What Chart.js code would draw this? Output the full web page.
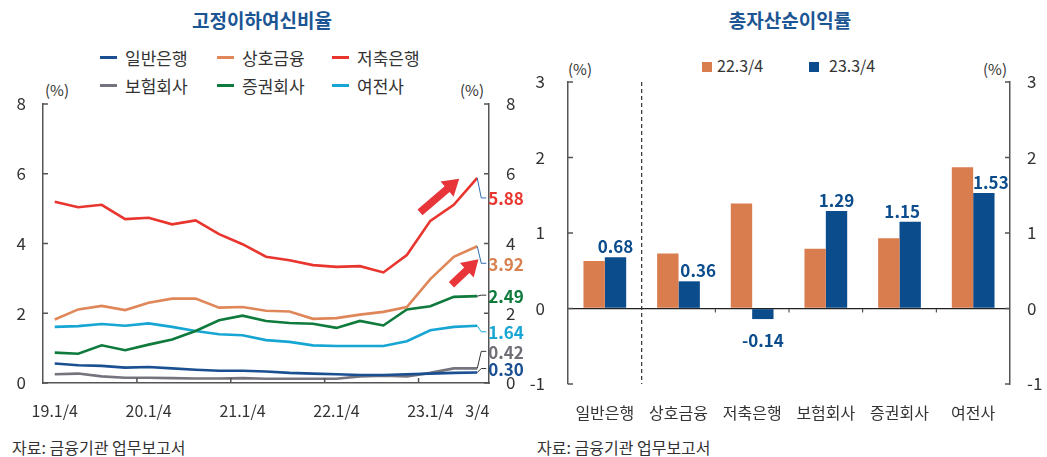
<!DOCTYPE html>
<html>
<head>
<meta charset="utf-8">
<script src="https://cdn.jsdelivr.net/npm/chart.js@4.4.0/dist/chart.umd.min.js"></script>
<style>
body{margin:0;width:1047px;height:457px;background:#fff;position:relative;overflow:hidden;font-family:"Noto Sans CJK KR","Noto Sans",sans-serif;color:#333}
.title{position:absolute;top:6px;font-size:19px;font-weight:bold;color:#1b5593;text-align:center;width:300px}
.unit{position:absolute;font-size:15px;color:#333}
.src{position:absolute;top:435px;font-size:16px;color:#333}
#legend1{position:absolute;left:100px;top:44px;display:grid;grid-template-columns:117px 115px auto;row-gap:2px}
.li{display:flex;align-items:center;font-size:17px;height:26px;white-space:nowrap}
.ln{display:inline-block;width:17px;height:3px;margin-right:8px}
#legend2{position:absolute;top:56px;left:0;font-size:16px}
.sq{position:absolute;width:10px;height:10px}
.lt{position:absolute;white-space:nowrap}
canvas{position:absolute;top:0}
</style>
</head>
<body>
<div class="title" style="left:112px">고정이하여신비율</div>
<div class="title" style="left:640px">총자산순이익률</div>
<div id="legend1"></div>
<div id="legend2"></div>
<div class="unit" style="left:45px;top:79px">(%)</div>
<div class="unit" style="left:460px;top:79px">(%)</div>
<div class="unit" style="left:568px;top:58px">(%)</div>
<div class="unit" style="left:983px;top:58px">(%)</div>
<canvas id="c1" width="530" height="430" style="left:0"></canvas>
<canvas id="c2" width="517" height="430" style="left:530px"></canvas>
<div class="src" style="left:12px">자료: 금융기관 업무보고서</div>
<div class="src" style="left:537px">자료: 금융기관 업무보고서</div>
<script>
// 고정이하여신비율 (분기)
var quarters = ['19.1/4','19.2/4','19.3/4','19.4/4','20.1/4','20.2/4','20.3/4','20.4/4',
  '21.1/4','21.2/4','21.3/4','21.4/4','22.1/4','22.2/4','22.3/4','22.4/4','23.1/4','23.2/4','23.3/4'];
var xTickLabels = ['19.1/4','','','','20.1/4','','','','21.1/4','','','','22.1/4','','','','23.1/4','','3/4'];
var seriesNames = ['일반은행','상호금융','저축은행','보험회사','증권회사','여전사'];
var bank = [0.56,0.51,0.49,0.44,0.46,0.42,0.38,0.35,0.35,0.33,0.29,0.27,0.25,0.23,0.23,0.25,0.27,0.29,0.30];
var coop = [1.82,2.11,2.21,2.09,2.30,2.42,2.42,2.16,2.18,2.07,2.05,1.84,1.86,1.96,2.04,2.18,2.98,3.62,3.92];
var savings = [5.20,5.04,5.11,4.70,4.74,4.55,4.66,4.27,3.98,3.62,3.52,3.38,3.33,3.35,3.17,3.67,4.65,5.11,5.88];
var insurance = [0.25,0.27,0.19,0.15,0.15,0.14,0.13,0.13,0.14,0.12,0.12,0.12,0.12,0.19,0.21,0.19,0.29,0.42,0.42];
var securities = [0.87,0.84,1.08,0.94,1.10,1.25,1.49,1.80,1.93,1.78,1.72,1.70,1.58,1.78,1.65,2.11,2.20,2.47,2.49];
var card = [1.61,1.63,1.69,1.64,1.71,1.61,1.49,1.40,1.37,1.23,1.18,1.08,1.06,1.06,1.06,1.20,1.51,1.61,1.64];
var leftTicks = [0,2,4,6,8];

// 총자산순이익률
var roaCategories = ['일반은행','상호금융','저축은행','보험회사','증권회사','여전사'];
var roaNames = ['22.3/4','23.3/4'];
var roa22 = [0.63,0.73,1.39,0.79,0.93,1.87];
var roa23 = [0.68,0.36,-0.14,1.29,1.15,1.53];
var rightTicks = [-1,0,1,2,3];

var FONT = '"Noto Sans CJK KR","Noto Sans",sans-serif';
Chart.defaults.font.family = FONT;
Chart.defaults.color = '#333';

var lineColors = ['#1a4f91','#e0875a','#e8352e','#74747e','#0e7a3b','#17a6d3'];
var labelColors = ['#1a4f91','#d9804f','#e8352e','#6f6f78','#0e7a3b','#17a6d3'];
var connColors = ['#333','#2f6fb0','#2f6fb0','#333','#333','#17a6d3'];
var barColors = ['#d97c4e','#0b4c8c'];

// legends
var lg1 = document.getElementById('legend1');
seriesNames.forEach(function(n, i){
  var d = document.createElement('div');
  d.className = 'li';
  d.innerHTML = '<span class="ln" style="background:' + lineColors[i] + '"></span>' + n;
  lg1.appendChild(d);
});
var lg2 = document.getElementById('legend2');
var lgX = [702, 809];
roaNames.forEach(function(n, i){
  lg2.innerHTML += '<span class="sq" style="left:' + lgX[i] + 'px;top:6px;background:' + barColors[i] + '"></span>' +
    '<span class="lt" style="left:' + (lgX[i] + (i ? 20 : 15)) + 'px;top:-3px">' + n + '</span>';
});

function seg(ctx, x1, y1, x2, y2){ ctx.beginPath(); ctx.moveTo(x1, y1); ctx.lineTo(x2, y2); ctx.stroke(); }

function arrow(ctx, x1, y1, x2, y2){
  var ang = Math.atan2(y2 - y1, x2 - x1), L = Math.hypot(x2 - x1, y2 - y1);
  var head = 16, hw = 10, sw = 3.8;
  ctx.save();
  ctx.translate(x1, y1); ctx.rotate(ang);
  ctx.beginPath();
  ctx.moveTo(0, -sw); ctx.lineTo(L - head, -sw); ctx.lineTo(L - head, -hw); ctx.lineTo(L, 0);
  ctx.lineTo(L - head, hw); ctx.lineTo(L - head, sw); ctx.lineTo(0, sw);
  ctx.closePath(); ctx.fill();
  ctx.restore();
}

var leftDecor = {
  id: 'leftDecor',
  afterDatasetsDraw: function(chart){
    var ctx = chart.ctx, a = chart.chartArea, x = chart.scales.x, y = chart.scales.y;
    ctx.save();
    ctx.strokeStyle = '#555'; ctx.lineWidth = 1.5;
    leftTicks.forEach(function(v){
      var py = y.getPixelForValue(v);
      seg(ctx, a.left, py, a.left + 5, py);
      seg(ctx, a.right, py, a.right - 5, py);
    });
    for (var i = 4; i < quarters.length; i += 4) {
      var px = (x.getPixelForValue(i - 1) + x.getPixelForValue(i)) / 2;
      seg(ctx, px, a.bottom, px, a.bottom - 5);
    }
    // end labels
    var dy = [-4, 17, 20, -17, -1, 6];
    ctx.font = 'bold 17px ' + FONT;
    ctx.textBaseline = 'middle';
    chart.data.datasets.forEach(function(ds, k){
      var n = ds.data.length - 1;
      var px = x.getPixelForValue(n), py = y.getPixelForValue(ds.data[n]), ly = py + dy[k];
      ctx.strokeStyle = connColors[k]; ctx.lineWidth = 1;
      ctx.beginPath(); ctx.moveTo(px, py); ctx.lineTo(px + 4, ly); ctx.lineTo(px + 9, ly); ctx.stroke();
      ctx.fillStyle = labelColors[k];
      ctx.fillText(ds.data[n].toFixed(2), px + 11, ly + 1);
    });
    // arrows
    ctx.fillStyle = '#e8353a';
    [[15.56, 4.89, 17.23, 5.86], [16.9, 2.82, 18.05, 3.55]].forEach(function(p){
      arrow(ctx, x.getPixelForValue(p[0]), y.getPixelForValue(p[1]), x.getPixelForValue(p[2]), y.getPixelForValue(p[3]));
    });
    ctx.restore();
  }
};

function lineSet(label, data, i){
  return { label: label, data: data, borderColor: lineColors[i], backgroundColor: lineColors[i],
    borderWidth: 2.6, pointRadius: 0, tension: 0, fill: false };
}

new Chart(document.getElementById('c1'), {
  type: 'line',
  data: {
    labels: quarters,
    datasets: [
      lineSet(seriesNames[0], bank, 0),
      lineSet(seriesNames[1], coop, 1),
      lineSet(seriesNames[2], savings, 2),
      lineSet(seriesNames[3], insurance, 3),
      lineSet(seriesNames[4], securities, 4),
      lineSet(seriesNames[5], card, 5)
    ]
  },
  options: {
    responsive: false, animation: false,
    layout: { padding: { top: 104, left: 0, right: 0, bottom: 0 } },
    plugins: { legend: { display: false }, tooltip: { enabled: false } },
    scales: {
      x: {
        offset: true,
        grid: { display: true, drawOnChartArea: false, drawTicks: false, offset: true },
        border: { display: true, color: '#555', width: 1.5 },
        ticks: { autoSkip: false, maxRotation: 0, padding: 18, font: { size: 16 } ,
          callback: function(v, i){ return xTickLabels[i]; } },
        afterFit: function(s){ s.height = 47; }
      },
      y: {
        min: 0, max: 8,
        grid: { display: true, drawOnChartArea: false, drawTicks: false },
        border: { display: true, color: '#555', width: 1.5 },
        ticks: { stepSize: 2, padding: 17, font: { size: 17 } },
        afterFit: function(s){ s.width = 43; }
      },
      y2: {
        type: 'linear', position: 'right', min: 0, max: 8,
        grid: { display: true, drawOnChartArea: false, drawTicks: false },
        border: { display: true, color: '#555', width: 1.5 },
        ticks: { stepSize: 2, padding: 17, font: { size: 17 } },
        afterFit: function(s){ s.width = 41; }
      }
    }
  },
  plugins: [leftDecor]
});

var rightDecor = {
  id: 'rightDecor',
  afterDatasetsDraw: function(chart){
    var ctx = chart.ctx, a = chart.chartArea, x = chart.scales.x, y = chart.scales.y;
    ctx.save();
    ctx.strokeStyle = '#555'; ctx.lineWidth = 1.5;
    rightTicks.forEach(function(v){
      var py = y.getPixelForValue(v);
      seg(ctx, a.left, py, a.left + 5, py);
      seg(ctx, a.right, py, a.right - 5, py);
    });
    var zero = y.getPixelForValue(0);
    ctx.strokeStyle = '#333'; ctx.lineWidth = 1;
    for (var i = 2; i < roaCategories.length; i++) {
      var px = (x.getPixelForValue(i - 1) + x.getPixelForValue(i)) / 2;
      seg(ctx, px, zero, px, zero + 4);
    }
    // dashed separator after 일반은행
    var sx = (x.getPixelForValue(0) + x.getPixelForValue(1)) / 2;
    ctx.setLineDash([4, 3]); ctx.lineWidth = 1.2;
    seg(ctx, sx, a.top, sx, a.bottom);
    ctx.setLineDash([]);
    // value labels on 23.3/4 bars
    var meta = chart.getDatasetMeta(1);
    var dx = [0, 9, 0, 0, -8, 7];
    ctx.font = 'bold 17px ' + FONT;
    ctx.fillStyle = '#0b4c8c';
    ctx.textAlign = 'center';
    ctx.textBaseline = 'alphabetic';
    meta.data.forEach(function(bar, k){
      var v = roa23[k];
      var ty = v >= 0 ? bar.y - 4 : bar.y + 28;
      ctx.fillText(v.toFixed(2), bar.x + dx[k], ty);
    });
    ctx.restore();
  }
};

new Chart(document.getElementById('c2'), {
  type: 'bar',
  data: {
    labels: roaCategories,
    datasets: [
      { label: roaNames[0], data: roa22, backgroundColor: barColors[0] },
      { label: roaNames[1], data: roa23, backgroundColor: barColors[1] }
    ]
  },
  options: {
    responsive: false, animation: false,
    layout: { padding: { top: 82, left: 0, right: 0, bottom: 0 } },
    datasets: { bar: { categoryPercentage: 0.58, barPercentage: 1.0 } },
    plugins: { legend: { display: false }, tooltip: { enabled: false } },
    scales: {
      x: {
        grid: { display: false },
        border: { display: false },
        ticks: { padding: 11, font: { size: 16 } },
        afterFit: function(s){ s.height = 46; }
      },
      y: {
        min: -1, max: 3,
        grid: { display: true, drawTicks: false,
          color: function(c){ return c.tick && c.tick.value === 0 ? '#222' : 'rgba(0,0,0,0)'; },
          lineWidth: 1.3 },
        border: { display: true, color: '#555', width: 1.5 },
        ticks: { stepSize: 1, padding: 23, font: { size: 17 } },
        afterFit: function(s){ s.width = 38; }
      },
      y2: {
        type: 'linear', position: 'right', min: -1, max: 3,
        grid: { display: true, drawOnChartArea: false, drawTicks: false },
        border: { display: true, color: '#555', width: 1.5 },
        ticks: { stepSize: 1, padding: 17, font: { size: 17 } },
        afterFit: function(s){ s.width = 37; }
      }
    }
  },
  plugins: [rightDecor]
});
</script>
</body>
</html>
